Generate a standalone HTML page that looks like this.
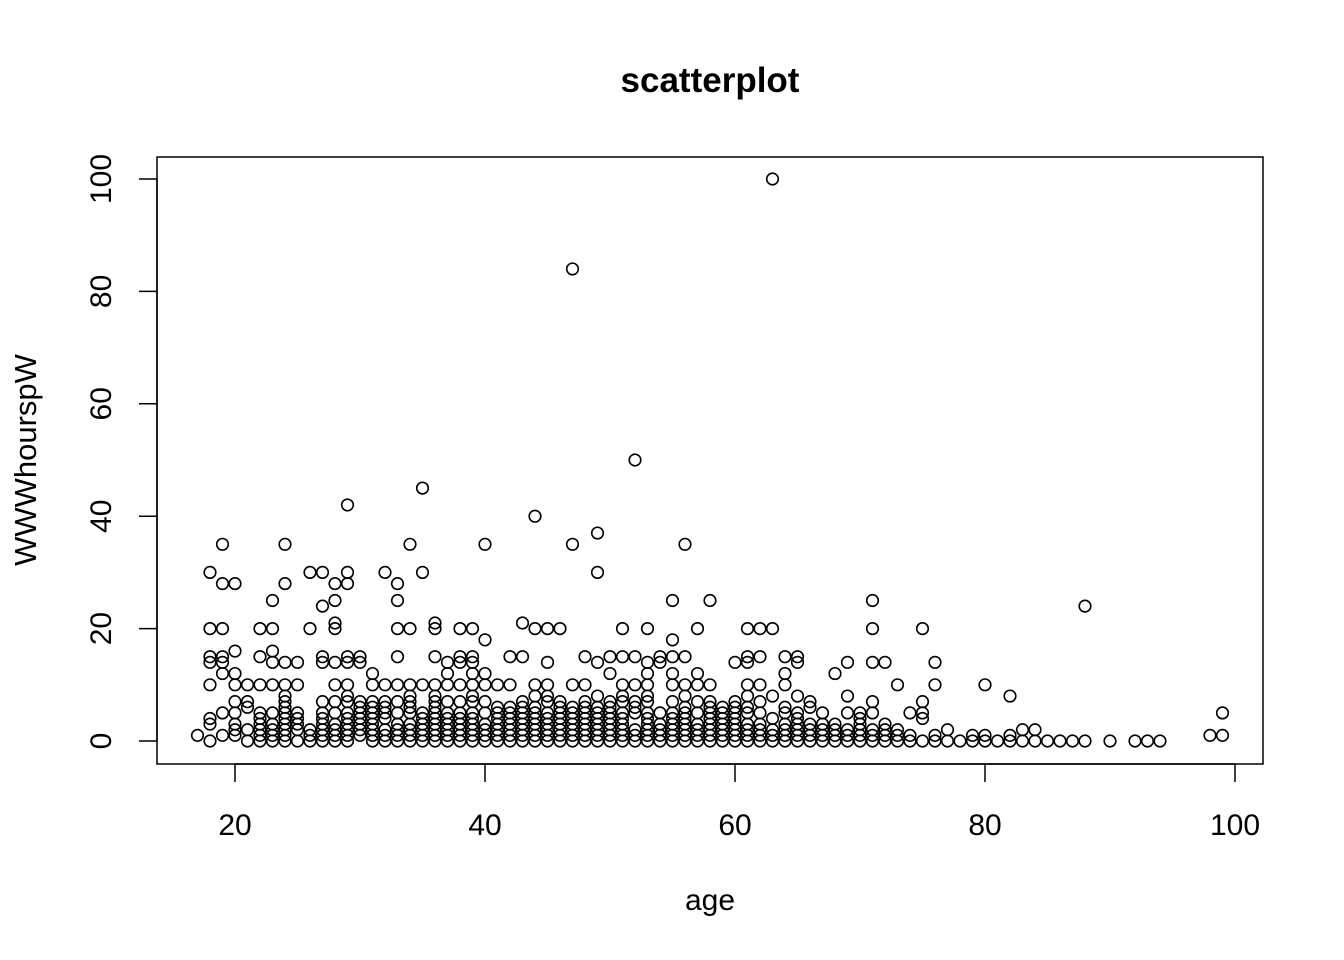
<!DOCTYPE html>
<html><head><meta charset="utf-8"><style>
html,body{margin:0;padding:0;background:#fff;}
svg{display:block;font-family:"Liberation Sans",Arial,sans-serif;}
</style></head><body>
<svg id="chart" width="1344" height="960">
<text x="710" y="92" text-anchor="middle" font-size="35" font-weight="bold">scatterplot</text>
<rect x="157" y="157" width="1106" height="607" fill="none" stroke="#000" stroke-width="1.5"/>
<text x="710" y="910" text-anchor="middle" font-size="30">age</text>
<text transform="translate(36,460) rotate(-90)" text-anchor="middle" font-size="31">WWWhourspW</text>
<g id="axes"></g>
<g id="points"></g>
</svg>
<script>
const xTicks=[20,40,60,80,100];
const yTicks=[0,20,40,60,80,100];
const groupAges=[17,18,19,20,21,22,23,24,25,26,27,28,29,30,31,32,33,34,35,36,37,38,39,40,41,42,43,44,45,46,47,48,49,50,51,52,53,54,55,56,57,58,59,60,61,62,63,64,65,66,67,68,69,70,71,72,73,74,75,76,77,78,79,80,81,82,83,84,85,86,87,88,90,92,93,94,98,99];
const groupHours=[
[1],[0,3,4,10,14,15,20,30],[1,5,12,14,15,20,28,35],[1,2,3,5,7,10,12,16,28],[0,2,6,7,10],
[0,1,2,3,4,5,10,15,20],[0,1,2,3,5,10,14,16,20,25],[0,1,2,3,4,5,6,7,8,10,14,28,35],[0,2,3,4,5,10,14],[0,1,2,20,30],
[0,1,2,3,4,5,7,14,15,24,30],[0,1,2,3,5,7,10,14,20,21,25,28],[0,1,2,3,4,5,7,8,10,14,15,28,30,42],[1,2,3,4,5,6,7,14,15],[0,1,2,3,4,5,6,7,10,12],
[0,1,2,4,5,6,7,10,30],[0,1,2,3,5,7,10,15,20,25,28],[0,1,2,3,5,6,7,8,10,20,35],[0,1,2,3,4,5,10,30,45],[0,1,2,3,4,5,6,7,8,10,15,20,21],
[0,1,2,3,4,5,7,10,12,14],[0,1,2,3,4,5,7,10,14,15,20],[0,1,2,3,4,5,7,8,10,12,14,15,20],[0,1,2,3,5,7,10,12,18,35],[0,1,2,3,4,5,6,10],
[0,1,2,3,4,5,6,10,15],[0,1,2,3,4,5,6,7,15,21],[0,1,2,3,4,5,6,8,10,20,40],[0,1,2,3,4,5,7,8,10,14,20],[0,1,2,3,4,5,6,7,20],
[0,1,2,3,4,5,6,10,35,84],[0,1,2,3,4,5,6,7,10,15],[0,1,2,3,4,5,6,8,14,30,37],[0,1,2,3,4,5,6,7,12,15],[0,1,2,3,4,5,7,8,10,15,20],
[0,1,2,5,6,7,10,15,50],[0,1,2,3,4,5,7,8,10,12,14,20],[0,1,2,3,5,14,15],[0,1,2,3,4,5,7,10,12,15,18,25],[0,1,2,3,4,5,6,8,10,15,35],
[0,1,2,3,5,7,10,12,20],[0,1,2,3,4,5,6,7,10,25],[0,1,2,3,4,5,6],[0,1,2,3,4,5,6,7,14],[0,1,2,3,5,6,8,10,14,15,20],
[0,1,2,3,5,7,10,15,20],[0,1,2,4,8,20,100],[0,1,2,3,5,6,10,12,15],[0,1,2,3,4,5,8,14,15],[0,1,2,3,6,7],
[0,1,2,3,5],[0,1,2,3,12],[0,1,2,5,8,14],[0,1,2,3,4,5],[0,1,2,5,7,14,20,25],
[0,1,2,3,14],[0,1,2,10],[0,1,5],[0,4,5,7,20],[0,1,10,14],
[0,2],[0],[0,1],[0,1,10],[0],[0,1,8],[0,2],[0,2],[0],[0],[0],[0,24],[0],[0],[0],[0],[1],[1,5]];
const NS="http://www.w3.org/2000/svg";
function sx(v){return 235+(v-20)*12.5;}
function sy(v){return 741-v*5.62;}
const axes=document.getElementById('axes');
function mk(tag,attrs,parent){const e=document.createElementNS(NS,tag);for(const k in attrs)e.setAttribute(k,attrs[k]);parent.appendChild(e);return e;}
mk('line',{x1:sx(20),x2:sx(100),y1:764,y2:764,stroke:'#000','stroke-width':1.5},axes);
mk('line',{x1:157,x2:157,y1:sy(0),y2:sy(100),stroke:'#000','stroke-width':1.5},axes);
xTicks.forEach(t=>{
 const l=mk('line',{x1:sx(t),x2:sx(t),y1:764,y2:782,stroke:'#000','stroke-width':1.5},axes);
 
 
 const tx=mk('text',{x:sx(t),y:835,'text-anchor':'middle','font-size':30},axes);
 tx.textContent=t;
 
 
});
yTicks.forEach(t=>{
 const l=mk('line',{x1:139,x2:157,y1:sy(t),y2:sy(t),stroke:'#000','stroke-width':1.5},axes);
 
 
 const tx=mk('text',{transform:'translate(111,'+sy(t)+') rotate(-90)','text-anchor':'middle','font-size':30},axes);
 tx.textContent=t;
 
 
});
const pts=document.getElementById('points');
groupAges.forEach((a,i)=>{
 groupHours[i].forEach(h=>{
  const c=mk('circle',{cx:sx(a),cy:sy(h),r:5.8,fill:'none',stroke:'#000','stroke-width':1.6},pts);
  
  
 });
});
</script>
</body></html>
